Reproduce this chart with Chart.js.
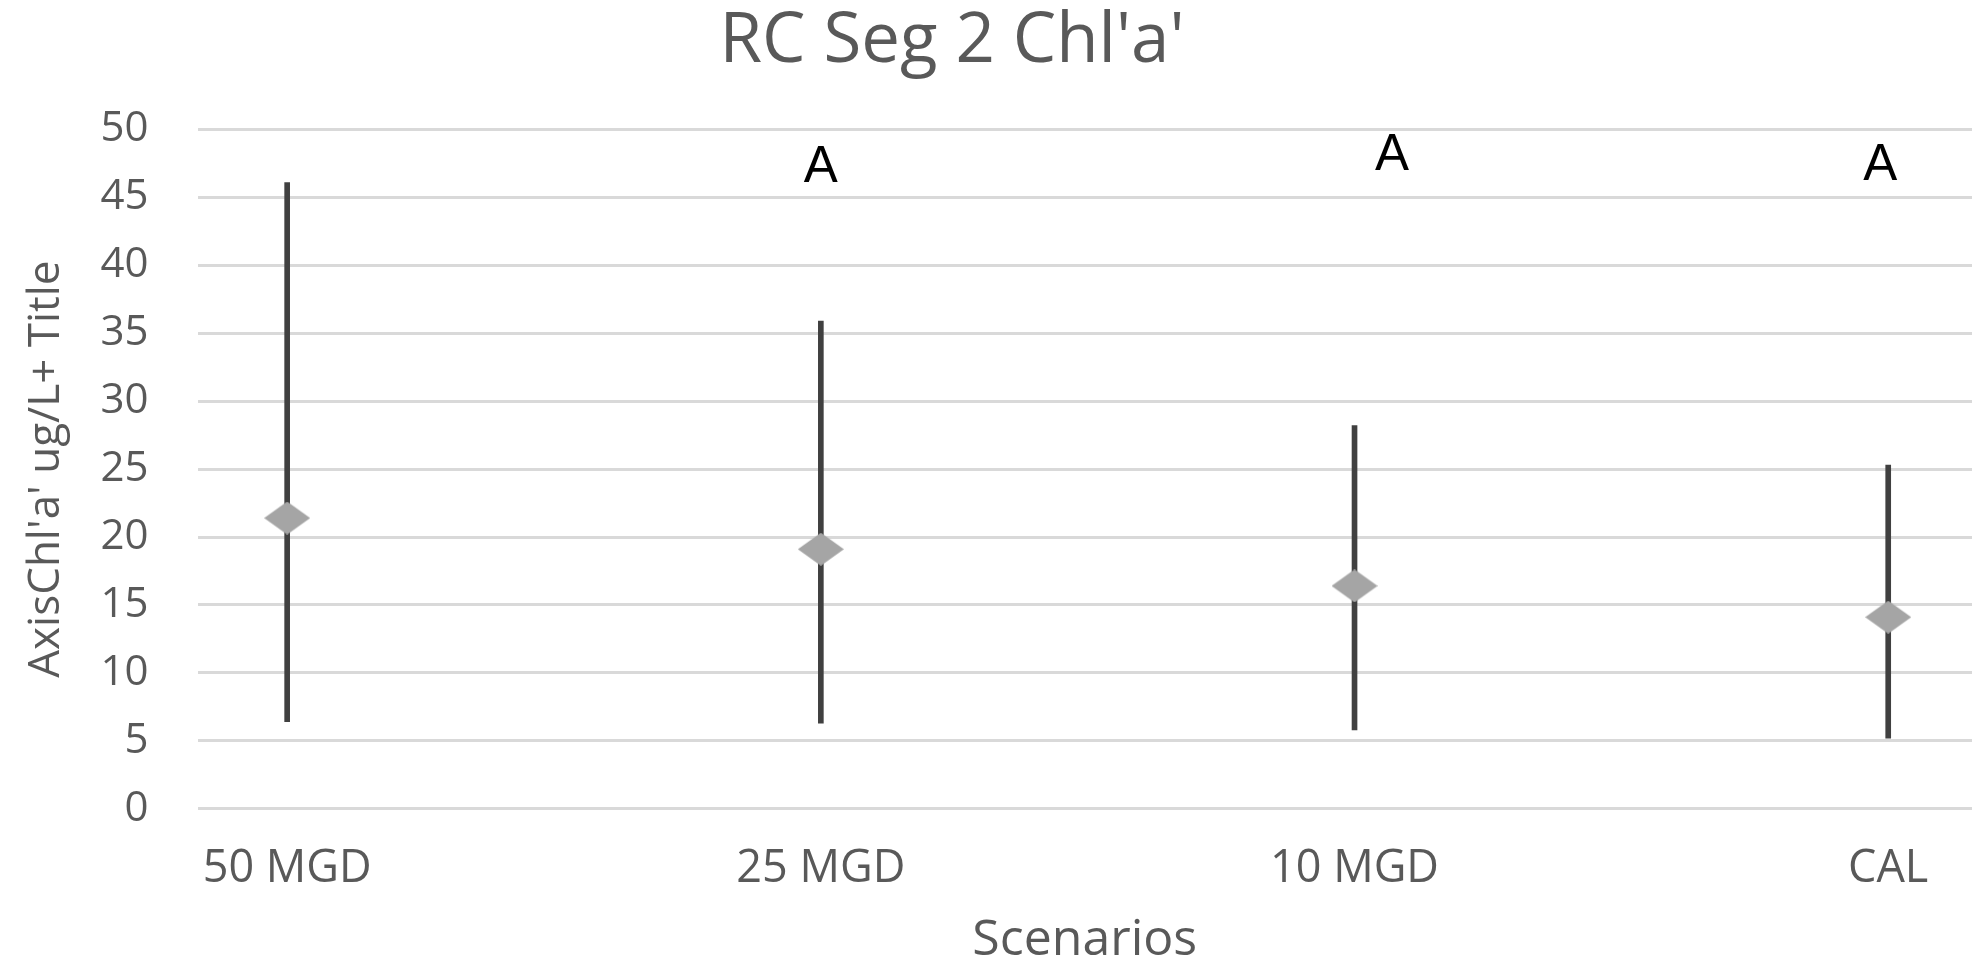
<!DOCTYPE html>
<html>
<head>
<meta charset="utf-8">
<title>RC Seg 2 Chl'a'</title>
<script src="https://cdn.jsdelivr.net/npm/chart.js@4.4.0/dist/chart.umd.min.js"></script>
<style>
  html, body { margin: 0; padding: 0; background: #ffffff; }
  #frame { position: relative; width: 1972px; height: 963px; overflow: hidden; background: #ffffff; }
  #holder { position: absolute; left: -68px; top: 0; width: 2040px; height: 963px; }
</style>
</head>
<body>
<div id="frame">
  <div id="holder"><canvas id="chlChart"></canvas></div>
</div>
<script>
// Scenario names along the x axis
const scenarios = ['50 MGD', '25 MGD', '10 MGD', 'CAL'];

// Mean Chl'a' (ug/L) per scenario, and the range drawn as a whisker
const meanValues = [21.4, 19.1, 16.4, 14.1];
const lowValues = [6.4, 6.3, 5.8, 5.2];
const highValues = [46.1, 35.9, 28.2, 25.3];

// Significance letters above each scenario (blank = none)
const groupLetters = ['', 'A', 'A', 'A'];
const letterValues = [null, 46.1, 47.0, 46.3];
const letterShift = [0, 0, 0.07, -0.015];

// Y axis ticks
const yTicks = [0, 5, 10, 15, 20, 25, 30, 35, 40, 45, 50];

const axisGray = '#595959';
const fontFamily = '"Open Sans", "Noto Sans", sans-serif';

// Flattened diamond marker used for the means
function makeDiamond(w, h, color) {
  const c = document.createElement('canvas');
  c.width = w;
  c.height = h;
  const g = c.getContext('2d');
  g.fillStyle = color;
  g.beginPath();
  g.moveTo(w / 2, 0);
  g.lineTo(w, h / 2);
  g.lineTo(w / 2, h);
  g.lineTo(0, h / 2);
  g.closePath();
  g.fill();
  return c;
}

// Draws the group letters using the chart scales
const letterPlugin = {
  id: 'groupLetters',
  afterDatasetsDraw(chart) {
    const { ctx, scales } = chart;
    ctx.save();
    ctx.font = '51px "Liberation Sans", Arial, sans-serif';
    ctx.fillStyle = '#000000';
    ctx.textAlign = 'center';
    ctx.textBaseline = 'alphabetic';
    groupLetters.forEach((letter, i) => {
      if (!letter) return;
      const x = scales.x.getPixelForValue(i + letterShift[i]);
      const y = scales.y.getPixelForValue(letterValues[i]);
      ctx.fillText(letter, x, y);
    });
    ctx.restore();
  }
};

const rangeData = scenarios.map((s, i) => ({ x: i, y: [lowValues[i], highValues[i]] }));
const meanData = scenarios.map((s, i) => ({ x: i, y: meanValues[i] }));

const ctx = document.getElementById('chlChart').getContext('2d');

new Chart(ctx, {
  data: {
    datasets: [
      {
        type: 'scatter',
        label: 'Mean',
        data: meanData,
        pointStyle: makeDiamond(46, 33, '#a5a5a5'),
        pointRadius: 23,
        order: 0
      },
      {
        type: 'bar',
        label: 'Range',
        data: rangeData,
        backgroundColor: '#404040',
        borderWidth: 0,
        barThickness: 5,
        order: 1
      }
    ]
  },
  options: {
    responsive: true,
    maintainAspectRatio: false,
    animation: false,
    layout: { padding: 0, autoPadding: false },
    plugins: {
      legend: { display: false },
      tooltip: { enabled: false },
      title: {
        display: true,
        text: "RC Seg 2 Chl'a'",
        color: axisGray,
        font: { family: fontFamily, size: 69, weight: 'normal', lineHeight: 1 },
        padding: { top: 8, bottom: 52.5 }
      }
    },
    scales: {
      x: {
        type: 'linear',
        min: -0.168,
        max: 3.157,
        offset: false,
        grid: { display: false, drawTicks: false },
        border: { display: false },
        afterBuildTicks: axis => {
          axis.ticks = scenarios.map((s, i) => ({ value: i }));
        },
        afterFit: axis => {
          // plot runs right up to the edge, no room kept for end labels
          axis.height = 154.3;
          axis.paddingLeft = 0;
          axis.paddingRight = 0;
        },
        ticks: {
          autoSkip: false,
          maxRotation: 0,
          padding: 33,
          color: axisGray,
          font: { family: fontFamily, size: 45 },
          callback: value => scenarios[value]
        },
        title: {
          display: true,
          text: 'Scenarios',
          color: axisGray,
          font: { family: fontFamily, size: 50 },
          padding: { top: 0, bottom: -8 }
        }
      },
      y: {
        min: 0,
        max: 50,
        afterBuildTicks: axis => {
          axis.ticks = yTicks.map(v => ({ value: v }));
        },
        afterFit: axis => {
          axis.width = 265.5;
        },
        grid: { color: '#d9d9d9', lineWidth: 3, drawTicks: false },
        border: { display: false },
        ticks: {
          padding: 49,
          color: axisGray,
          font: { family: fontFamily, size: 42 }
        },
        title: {
          display: true,
          text: "AxisChl'a' ug/L+ Title",
          color: axisGray,
          font: { family: fontFamily, size: 44 },
          padding: { top: 87.6, bottom: 0 }
        }
      }
    }
  },
  plugins: [letterPlugin]
});
</script>
</body>
</html>
